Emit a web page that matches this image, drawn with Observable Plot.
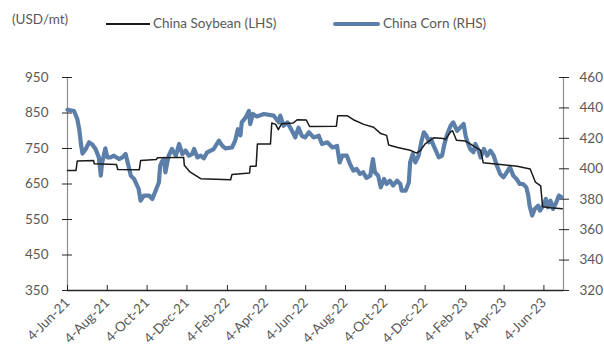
<!DOCTYPE html>
<html><head><meta charset="utf-8">
<script src="https://cdn.jsdelivr.net/npm/d3@7"></script>
<script src="https://cdn.jsdelivr.net/npm/@observablehq/plot@0.6"></script>
<style>
body{margin:0;background:#fff;font-family:Lato,sans-serif;}
#wrap{width:604px;height:345px;position:relative;overflow:hidden;background:#fff}
#legend{position:relative;height:40px;font-size:13.5px;color:#595959;line-height:16px}
#legend span{position:absolute;white-space:nowrap}
#chart svg{display:block}
</style></head><body>
<div id="wrap">
<div id="legend">
<span style="left:12px;top:11px">(USD/mt)</span>
<span style="left:106px;top:23px;width:44px;height:2px;background:#1a1a1a"></span>
<span style="left:153px;top:15px">China Soybean (LHS)</span>
<span style="left:333px;top:22px;width:47px;height:4px;background:#5b7fa8;border-radius:2px"></span>
<span style="left:383px;top:15px">China Corn (RHS)</span>
</div>
<div id="chart"></div>
</div>
<script>
const soyDates = ["2021-06-04","2021-06-17","2021-06-19","2021-07-14","2021-07-15","2021-08-18","2021-08-20","2021-09-22","2021-09-24","2021-10-18",
"2021-10-20","2021-11-29","2021-11-30","2021-12-08","2021-12-25","2022-02-09","2022-02-11","2022-03-10","2022-03-11","2022-03-20",
"2022-03-22","2022-04-11","2022-04-13","2022-04-19","2022-04-23","2022-04-28","2022-05-16","2022-05-22","2022-06-05","2022-06-10",
"2022-07-21","2022-07-23","2022-08-07","2022-08-16","2022-09-01","2022-09-16","2022-09-27","2022-10-06","2022-10-09","2022-10-23",
"2022-11-11","2022-11-21","2022-11-27","2022-12-04","2022-12-17","2023-01-01","2023-01-04","2023-01-12","2023-01-15","2023-01-21",
"2023-02-04","2023-02-11","2023-02-27","2023-03-03","2023-03-29","2023-04-24","2023-05-14","2023-05-22","2023-05-30","2023-06-02",
"2023-06-14","2023-07-02"];
const soyValues = [688,688,715,716,707,705,691,690,716,719,
724,725,703,685,665,662,677,681,700,700,
763,763,822,818,803,820,822,831,830,812,
813,842,842,831,818,810,792,787,760,753,
745,737,745,763,780,778,775,797,800,773,
771,763,745,710,705,700,692,655,645,586,
583,580];

const cornDates = ["2021-06-04","2021-06-14","2021-06-19","2021-06-22","2021-06-25","2021-06-27","2021-07-02","2021-07-07","2021-07-12","2021-07-17",
"2021-07-22","2021-07-25","2021-07-27","2021-08-01","2021-08-04","2021-08-09","2021-08-14","2021-08-22","2021-08-27","2021-09-01",
"2021-09-06","2021-09-09","2021-09-14","2021-09-21","2021-09-24","2021-09-29","2021-10-07","2021-10-12","2021-10-17","2021-10-22",
"2021-10-24","2021-10-27","2021-10-30","2021-11-01","2021-11-06","2021-11-11","2021-11-17","2021-11-22","2021-11-27","2021-12-02",
"2021-12-07","2021-12-12","2021-12-15","2021-12-20","2021-12-25","2021-12-30","2022-01-04","2022-01-14","2022-01-22","2022-01-27",
"2022-02-01","2022-02-11","2022-02-16","2022-02-20","2022-02-24","2022-02-26","2022-03-04","2022-03-09","2022-03-11","2022-03-15",
"2022-03-21","2022-04-01","2022-04-16","2022-04-24","2022-04-26","2022-05-01","2022-05-07","2022-05-14","2022-05-19","2022-05-24",
"2022-05-29","2022-06-03","2022-06-09","2022-06-16","2022-06-24","2022-06-29","2022-07-07","2022-07-15","2022-07-22","2022-07-26",
"2022-07-30","2022-08-06","2022-08-11","2022-08-16","2022-08-21","2022-08-26","2022-08-31","2022-09-05","2022-09-11","2022-09-15",
"2022-09-18","2022-09-23","2022-09-27","2022-10-02","2022-10-06","2022-10-11","2022-10-16","2022-10-22","2022-10-27","2022-10-29",
"2022-11-04","2022-11-09","2022-11-11","2022-11-15","2022-11-19","2022-11-24","2022-11-28","2022-12-02","2022-12-06","2022-12-10",
"2022-12-13","2022-12-17","2022-12-25","2022-12-30","2023-01-02","2023-01-06","2023-01-12","2023-01-16","2023-01-22","2023-01-27",
"2023-02-01","2023-02-04","2023-02-07","2023-02-11","2023-02-16","2023-02-19","2023-02-24","2023-02-27","2023-03-04","2023-03-09",
"2023-03-14","2023-03-19","2023-03-24","2023-03-29","2023-04-03","2023-04-08","2023-04-13","2023-04-18","2023-04-23","2023-04-28",
"2023-05-03","2023-05-08","2023-05-11","2023-05-13","2023-05-17","2023-05-21","2023-05-26","2023-05-29","2023-06-03","2023-06-07",
"2023-06-10","2023-06-14","2023-06-18","2023-06-23","2023-06-27","2023-07-01"];
const cornValues = [438.8,438,432.7,426,415,410,413,417.4,416,413,
407.5,395.5,404,413.4,407.5,407.5,408.6,406.4,407.5,409.7,
401,395.5,393.3,386.8,379,382.4,382.4,380.2,385.6,391,
402,405,406.4,397.7,408.6,413,408.6,416.3,409.7,412,
408.6,409.7,413,407.5,408.6,406.9,410.8,413,418.5,415.2,
413.4,414,418.5,426,422,430.5,433.8,438,429.4,436,
434.4,436,434.9,430.5,435,428.3,430.5,425,420.6,427,
421.7,420.6,424,420.6,421.7,416.3,417.4,414,415,404.2,
408.6,408.6,403,398.8,399.9,396.6,397.7,394,395.5,406.4,
397.7,395.5,387.8,393.3,390,392.2,389,392.2,390,385.6,
385.6,391,404.2,409.7,404.2,408.6,417.4,424,421.7,417.4,
419.6,415.2,407.5,408.6,415.2,421.7,428.3,430.5,425,427.2,
429.4,421.7,417.4,413,410.8,416.3,411.9,407.5,413,408.6,
411.9,408.6,402,396.6,394.4,397.7,401,395.5,393.3,390,
390,387.8,382.4,375.8,369.3,373.6,375.8,372.5,375.8,380.2,
374.7,379,373.6,378,382.4,381.3];

const leftTicks = [350,450,550,650,750,850,950];
const rightTicks = [320,340,360,380,400,420,440,460];
const xTicks = ["2021-06-04","2021-08-04","2021-10-04","2021-12-04","2022-02-04","2022-04-04","2022-06-04",
"2022-08-04","2022-10-04","2022-12-04","2023-02-04","2023-04-04","2023-06-04"];
const xStart = "2021-06-04", xEnd = "2023-07-04";

const L0 = 350, L1 = 950, R0 = 320, R1 = 460;
const toLeft = v => L0 + (v - R0) * (L1 - L0) / (R1 - R0);
const toRight = v => R0 + (v - L0) * (R1 - R0) / (L1 - L0);
const fmt = d3.utcFormat("%-d-%b-%y");

const soy = soyDates.map((d, i) => ({date: new Date(d), v: soyValues[i]}));
const corn = cornDates.map((d, i) => ({date: new Date(d), v: toLeft(cornValues[i])}));
const xt = xTicks.map(d => new Date(d));

const chart = Plot.plot({
  width: 604, height: 305,
  marginLeft: 67, marginRight: 41, marginTop: 37, marginBottom: 55,
  style: {fontFamily: "Lato, sans-serif", fontSize: "13.5px", background: "white"},
  x: {type: "utc", domain: [new Date(xStart), new Date(xEnd)]},
  y: {domain: [L0, L1]},
  marks: [
    Plot.ruleX([new Date(xStart)], {stroke: "#8c8c8c", strokeWidth: 1.2}),
    Plot.ruleX([new Date(xEnd)], {stroke: "#8c8c8c", strokeWidth: 1.2}),
    Plot.axisY(leftTicks, {anchor: "left", tickSize: 10, dx: 5, tickPadding: 14, stroke: "#262626", fill: "#595959", tickFormat: d => String(d), label: null}),
    Plot.axisY(rightTicks.map(toLeft), {anchor: "right", tickSize: 10, dx: -5, tickPadding: 11, stroke: "#262626", fill: "#595959", tickFormat: v => String(Math.round(toRight(v))), label: null}),
    Plot.axisX(xt, {tickSize: 5, dy: -5, tickFormat: () => "", stroke: "#262626", label: null}),
    Plot.axisX(xt, {tickSize: 0, tickPadding: 10, tickRotate: -45, tickFormat: fmt, fill: "#595959", label: null}),
    Plot.line(corn, {x: "date", y: "v", stroke: "#5b7fa8", strokeWidth: 4.2, strokeLinejoin: "round", strokeLinecap: "round"}),
    Plot.line(soy, {x: "date", y: "v", stroke: "#1a1a1a", strokeWidth: 1.5}),
    Plot.ruleY([L0], {stroke: "#262626", strokeWidth: 1.3})
  ]
});
document.getElementById("chart").appendChild(chart);
</script>
</body></html>
